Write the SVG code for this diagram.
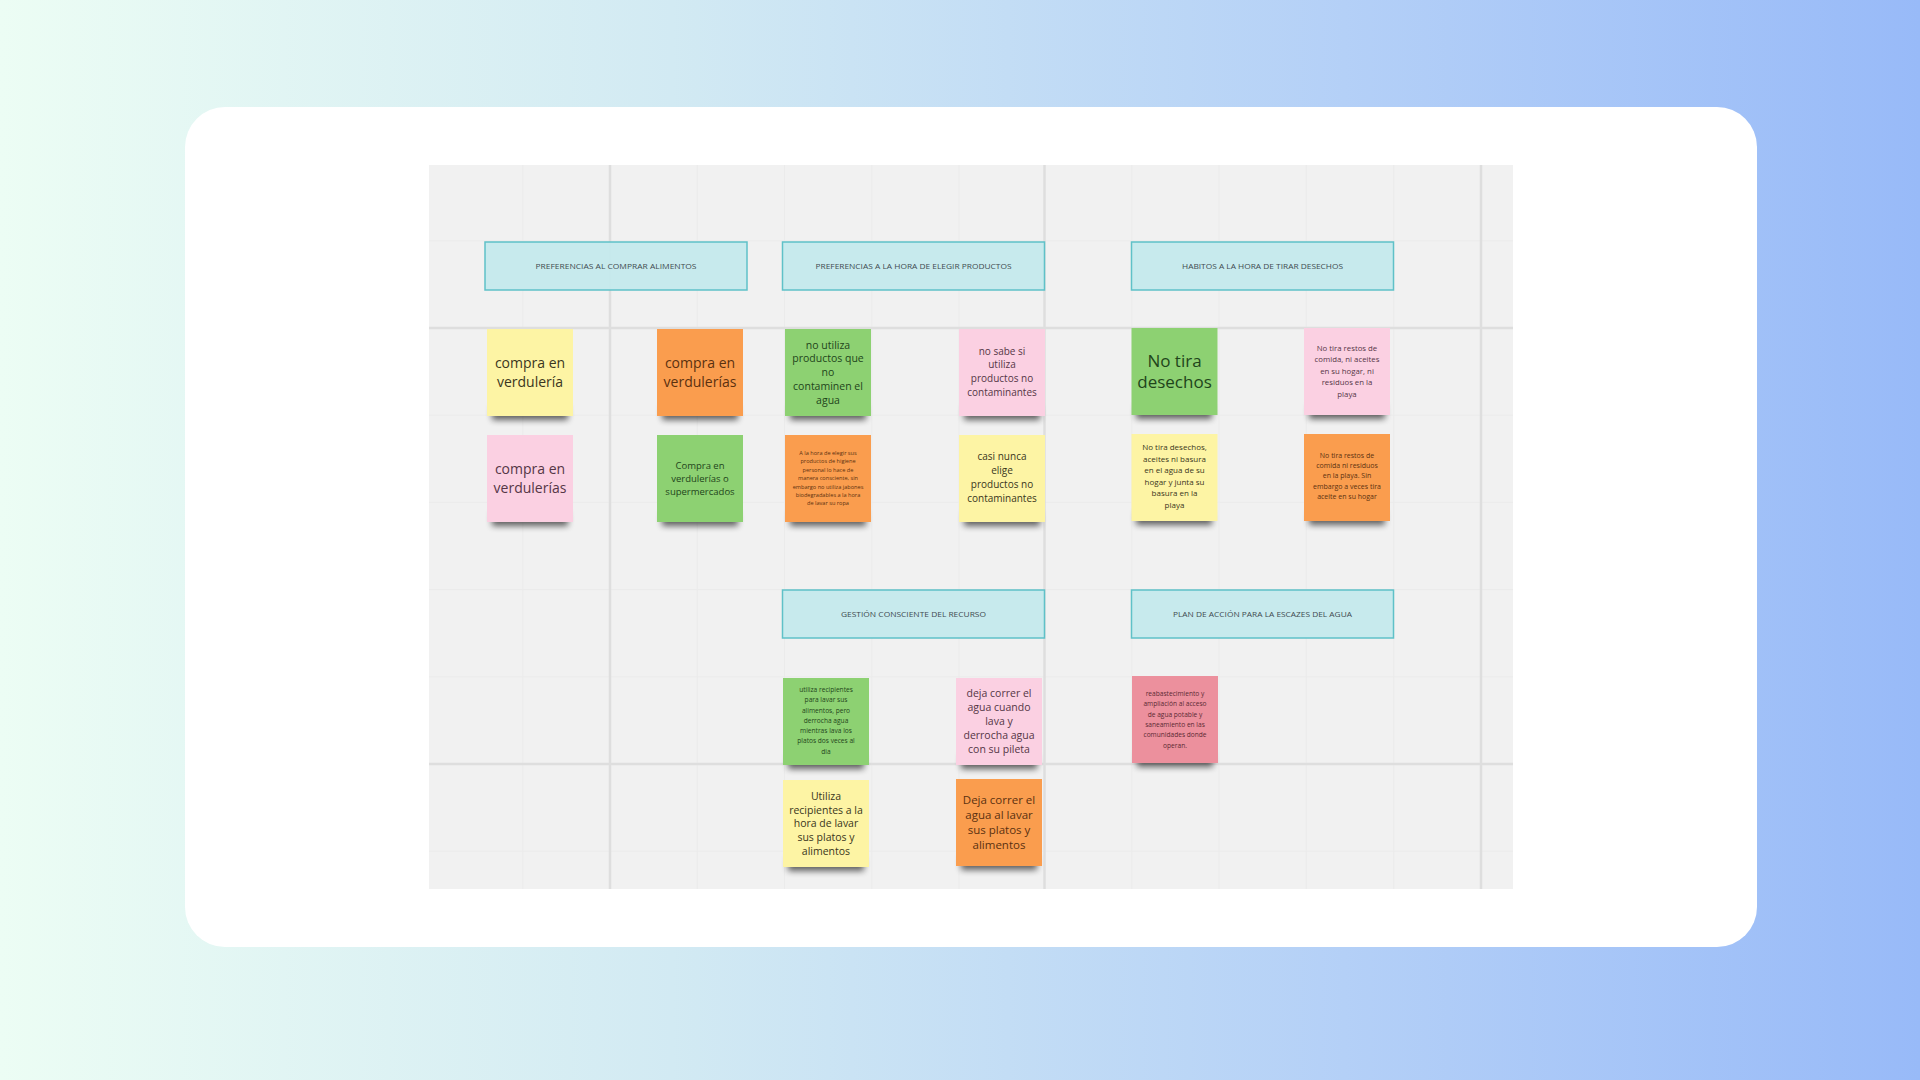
<svg xmlns="http://www.w3.org/2000/svg" width="1920" height="1080" viewBox="0 0 1920 1080">
<defs>
<linearGradient id="bg" x1="0" y1="0" x2="1" y2="0">
<stop offset="0" stop-color="#ecfdf4"/>
<stop offset="0.35" stop-color="#d2eaf3"/>
<stop offset="0.7" stop-color="#b4d0f7"/>
<stop offset="1" stop-color="#98baf8"/>
</linearGradient>
<filter id="blur" x="-20%" y="-100%" width="140%" height="300%"><feGaussianBlur stdDeviation="3"/></filter>
<style>
.sub{stroke:#ebebeb;stroke-width:1}
.main{stroke:#dedede;stroke-width:2.5}
.hdr rect{fill:#c3e9ed;fill-opacity:0.92;stroke:#5fc1c8;stroke-width:1.5}
.hdr text{font-family:"Open Sans","Liberation Sans",sans-serif;font-size:7.8px;fill:#3f4b50;text-anchor:middle}
.sh{fill:#000;opacity:0.6;filter:url(#blur)}
.note text{font-family:"Open Sans","Liberation Sans",sans-serif;text-anchor:middle}
.y rect.p{fill:#fdf4a4}.y text{fill:#3a3620}
.o rect.p{fill:#fa9d4e}.o text{fill:#5a3110}
.g rect.p{fill:#8dd172}.g text{fill:#1f451b}
.k rect.p{fill:#fbd0e2}.k text{fill:#553646}
.r rect.p{fill:#ec909d}.r text{fill:#5b2a33}
</style>
</defs>
<rect x="0" y="0" width="1920" height="1080" fill="url(#bg)"/>
<rect x="185" y="107" width="1572" height="840" rx="40" fill="#ffffff"/>
<g id="board">
<rect x="429" y="165" width="1084" height="724" fill="#f1f1f1"/>
<g class="sub">
<line x1="522.8" y1="165" x2="522.8" y2="889"/><line x1="697.3" y1="165" x2="697.3" y2="889"/><line x1="784.5" y1="165" x2="784.5" y2="889"/><line x1="871.8" y1="165" x2="871.8" y2="889"/><line x1="959" y1="165" x2="959" y2="889"/><line x1="1131.8" y1="165" x2="1131.8" y2="889"/><line x1="1219" y1="165" x2="1219" y2="889"/><line x1="1306.3" y1="165" x2="1306.3" y2="889"/><line x1="1393.7" y1="165" x2="1393.7" y2="889"/>
<line x1="429" y1="240.8" x2="1513" y2="240.8"/><line x1="429" y1="415.2" x2="1513" y2="415.2"/><line x1="429" y1="502.4" x2="1513" y2="502.4"/><line x1="429" y1="589.6" x2="1513" y2="589.6"/><line x1="429" y1="676.8" x2="1513" y2="676.8"/><line x1="429" y1="851.2" x2="1513" y2="851.2"/>
</g>
<g class="main">
<line x1="610" y1="165" x2="610" y2="889"/><line x1="1044.5" y1="165" x2="1044.5" y2="889"/><line x1="1481" y1="165" x2="1481" y2="889"/>
<line x1="429" y1="328" x2="1513" y2="328"/><line x1="429" y1="764" x2="1513" y2="764"/>
</g>
</g>
<g id="connectors"/>
<g id="h1" class="hdr"><rect x="485" y="242" width="262" height="48"/><text x="616" y="268.8" textLength="161" lengthAdjust="spacingAndGlyphs">PREFERENCIAS  AL COMPRAR ALIMENTOS</text></g>
<g id="h2" class="hdr"><rect x="782.5" y="242" width="262" height="48"/><text x="913.5" y="268.8" textLength="196" lengthAdjust="spacingAndGlyphs">PREFERENCIAS A LA HORA DE ELEGIR PRODUCTOS</text></g>
<g id="h3" class="hdr"><rect x="1131.5" y="242" width="262" height="48"/><text x="1262.5" y="268.8" textLength="161" lengthAdjust="spacingAndGlyphs">HABITOS A LA HORA DE TIRAR DESECHOS</text></g>
<g id="h4" class="hdr"><rect x="782.5" y="590" width="262" height="48"/><text x="913.5" y="616.8" textLength="145" lengthAdjust="spacingAndGlyphs">GESTIÓN CONSCIENTE DEL RECURSO</text></g>
<g id="h5" class="hdr"><rect x="1131.5" y="590" width="262" height="48"/><text x="1262.5" y="616.8" textLength="179" lengthAdjust="spacingAndGlyphs">PLAN DE ACCIÓN PARA LA ESCAZES DEL AGUA</text></g>

<g id="n1" class="note y"><rect class="sh" x="492" y="406" width="76" height="14"/><rect class="p" x="487" y="329" width="86" height="87"/>
<text font-size="14"><tspan x="530" y="367.9">compra en</tspan><tspan x="530" y="386.9">verdulería</tspan></text></g>
<g id="n2" class="note o"><rect class="sh" x="662" y="406" width="76" height="14"/><rect class="p" x="657" y="329" width="86" height="87"/>
<text font-size="14"><tspan x="700" y="367.9">compra en</tspan><tspan x="700" y="386.9">verdulerías</tspan></text></g>
<g id="n3" class="note k"><rect class="sh" x="492" y="512" width="76" height="14"/><rect class="p" x="487" y="435" width="86" height="87"/>
<text font-size="14"><tspan x="530" y="473.9">compra en</tspan><tspan x="530" y="492.9">verdulerías</tspan></text></g>
<g id="n4" class="note g"><rect class="sh" x="662" y="512" width="76" height="14"/><rect class="p" x="657" y="435" width="86" height="87"/>
<text font-size="9.5"><tspan x="700" y="468.8">Compra en</tspan><tspan x="700" y="481.8">verdulerías o</tspan><tspan x="700" y="494.8">supermercados</tspan></text></g>
<g id="n5" class="note g"><rect class="sh" x="790" y="406" width="76" height="14"/><rect class="p" x="785" y="329" width="86" height="87"/>
<text font-size="10.5"><tspan x="828" y="348.6">no utiliza</tspan><tspan x="828" y="362.4">productos que</tspan><tspan x="828" y="376.2">no</tspan><tspan x="828" y="390">contaminen el</tspan><tspan x="828" y="403.8">agua</tspan></text></g>
<g id="n6" class="note k"><rect class="sh" x="964" y="406" width="76" height="14"/><rect class="p" x="959" y="329" width="86" height="87"/>
<text font-size="10"><tspan x="1002" y="354.5">no sabe si</tspan><tspan x="1002" y="368.4">utiliza</tspan><tspan x="1002" y="382.3">productos no</tspan><tspan x="1002" y="396.2">contaminantes</tspan></text></g>
<g id="n7" class="note o"><rect class="sh" x="790" y="512" width="76" height="14"/><rect class="p" x="785" y="435" width="86" height="87"/>
<text font-size="5.6"><tspan x="828" y="455">A la hora de elegir sus</tspan><tspan x="828" y="463.4">productos de higiene</tspan><tspan x="828" y="471.8">personal lo hace de</tspan><tspan x="828" y="480.2">manera consciente, sin</tspan><tspan x="828" y="488.6">embargo no utiliza jabones</tspan><tspan x="828" y="497">biodegradables a la hora</tspan><tspan x="828" y="505.4">de lavar su ropa</tspan></text></g>
<g id="n8" class="note y"><rect class="sh" x="964" y="512" width="76" height="14"/><rect class="p" x="959" y="435" width="86" height="87"/>
<text font-size="10"><tspan x="1002" y="460">casi nunca</tspan><tspan x="1002" y="473.9">elige</tspan><tspan x="1002" y="487.8">productos no</tspan><tspan x="1002" y="501.7">contaminantes</tspan></text></g>
<g id="n9" class="note g"><rect class="sh" x="1136" y="405" width="76" height="14"/><rect class="p" x="1131.5" y="328" width="86" height="87"/>
<text font-size="17"><tspan x="1174.5" y="367">No tira</tspan><tspan x="1174.5" y="388">desechos</tspan></text></g>
<g id="n10" class="note k"><rect class="sh" x="1309" y="405" width="76" height="14"/><rect class="p" x="1304" y="328" width="86" height="87"/>
<text font-size="7.8"><tspan x="1347" y="351">No tira restos de</tspan><tspan x="1347" y="362.4">comida, ni aceites</tspan><tspan x="1347" y="373.8">en su hogar, ni</tspan><tspan x="1347" y="385.2">residuos en la</tspan><tspan x="1347" y="396.6">playa</tspan></text></g>
<g id="n11" class="note y"><rect class="sh" x="1136" y="511" width="76" height="14"/><rect class="p" x="1131.5" y="434" width="86" height="87"/>
<text font-size="8"><tspan x="1174.5" y="450.3">No tira desechos,</tspan><tspan x="1174.5" y="461.8">aceites ni basura</tspan><tspan x="1174.5" y="473.3">en el agua de su</tspan><tspan x="1174.5" y="484.8">hogar y junta su</tspan><tspan x="1174.5" y="496.3">basura en la</tspan><tspan x="1174.5" y="507.8">playa</tspan></text></g>
<g id="n12" class="note o"><rect class="sh" x="1309" y="511" width="76" height="14"/><rect class="p" x="1304" y="434" width="86" height="87"/>
<text font-size="7"><tspan x="1347" y="458">No tira restos de</tspan><tspan x="1347" y="468.2">comida ni residuos</tspan><tspan x="1347" y="478.4">en la playa. Sin</tspan><tspan x="1347" y="488.6">embargo a veces tira</tspan><tspan x="1347" y="498.8">aceite en su hogar</tspan></text></g>
<g id="n13" class="note g"><rect class="sh" x="788" y="755" width="76" height="14"/><rect class="p" x="783" y="678" width="86" height="87"/>
<text font-size="6.6"><tspan x="826" y="691.9">utiliza recipientes</tspan><tspan x="826" y="702.2">para lavar sus</tspan><tspan x="826" y="712.5">alimentos, pero</tspan><tspan x="826" y="722.8">derrocha agua</tspan><tspan x="826" y="733.1">mientras lava los</tspan><tspan x="826" y="743.4">platos dos veces al</tspan><tspan x="826" y="753.7">dia</tspan></text></g>
<g id="n14" class="note k"><rect class="sh" x="961" y="755" width="76" height="14"/><rect class="p" x="956" y="678" width="86" height="87"/>
<text font-size="10.5"><tspan x="999" y="697">deja correr el</tspan><tspan x="999" y="711.1">agua cuando</tspan><tspan x="999" y="725.2">lava y</tspan><tspan x="999" y="739.3">derrocha agua</tspan><tspan x="999" y="753.4">con su pileta</tspan></text></g>
<g id="n15" class="note r"><rect class="sh" x="1137" y="753" width="76" height="14"/><rect class="p" x="1132" y="676" width="86" height="87"/>
<text font-size="6.6"><tspan x="1175" y="696">reabastecimiento y</tspan><tspan x="1175" y="706.3">ampliación al acceso</tspan><tspan x="1175" y="716.6">de agua potable y</tspan><tspan x="1175" y="726.9">saneamiento en las</tspan><tspan x="1175" y="737.2">comunidades donde</tspan><tspan x="1175" y="747.5">operan.</tspan></text></g>
<g id="n16" class="note y"><rect class="sh" x="788" y="857" width="76" height="14"/><rect class="p" x="783" y="780" width="86" height="87"/>
<text font-size="10.5"><tspan x="826" y="799.8">Utiliza</tspan><tspan x="826" y="813.5">recipientes a la</tspan><tspan x="826" y="827.2">hora de lavar</tspan><tspan x="826" y="840.9">sus platos y</tspan><tspan x="826" y="854.6">alimentos</tspan></text></g>
<g id="n17" class="note o"><rect class="sh" x="961" y="856" width="76" height="14"/><rect class="p" x="956" y="779" width="86" height="87"/>
<text font-size="11.5"><tspan x="999" y="803.7">Deja correr el</tspan><tspan x="999" y="818.9">agua al lavar</tspan><tspan x="999" y="834.1">sus platos y</tspan><tspan x="999" y="849.3">alimentos</tspan></text></g>
</svg>
